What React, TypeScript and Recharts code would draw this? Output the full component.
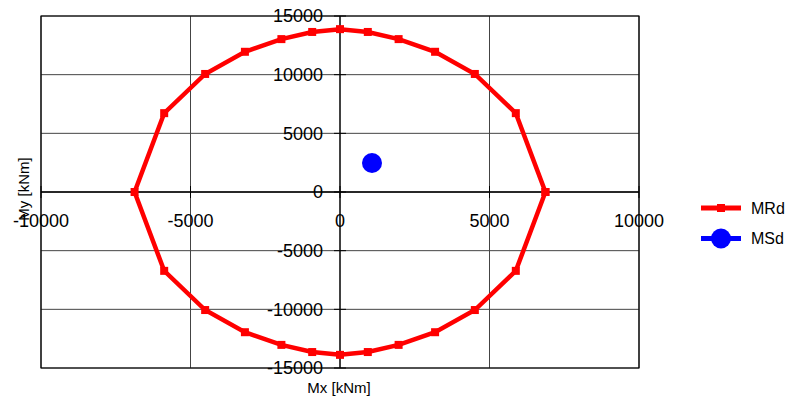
import React from 'react';
import { ScatterChart, Scatter, XAxis, YAxis, CartesianGrid, ReferenceLine, ReferenceArea, Customized } from 'recharts';

const mrdX = [6870, 5880, 4510, 3180, 1960, 930, 0, -930, -1960, -3180, -4510, -5880, -6870, -5880, -4510, -3180, -1960, -930, 0, 930, 1960, 3180, 4510, 5880, 6870];
const mrdY = [0, 6720, 10060, 11950, 13030, 13640, 13880, 13640, 13030, 11950, 10060, 6720, 0, -6720, -10060, -11950, -13030, -13640, -13880, -13640, -13030, -11950, -10060, -6720, 0];
const msdX = [1070];
const msdY = [2470];
const xTicks = [-10000, -5000, 0, 5000, 10000];
const yTicks = [-15000, -10000, -5000, 0, 5000, 10000, 15000];
const seriesNames = ['MRd', 'MSd'];
const xLabel = 'Mx [kNm]';
const yLabel = 'My [kNm]';

const W = 787;
const H = 402;
const AX_H = 20;
const AX_W = 20;
const M = { top: 16, right: 148, bottom: 34 - AX_H, left: 41 - AX_W };
const PLOT_L = 41;
const PLOT_T = 16;
const plotW = W - PLOT_L - M.right;
const plotH = H - PLOT_T - 34;
const ZERO_X = PLOT_L + plotW / 2;
const ZERO_Y = PLOT_T + plotH / 2;
const FONT = '"Liberation Sans", Arial, sans-serif';

const mrdData = mrdX.map((x, i) => ({ x, y: mrdY[i] }));
const msdData = msdX.map((x, i) => ({ x, y: msdY[i] }));

const renderXTick = (props: any) => {
  const { x, payload } = props;
  return (
    <g>
      <line x1={x} x2={x} y1={ZERO_Y - 6} y2={ZERO_Y + 6} stroke="#000" />
      <text x={x} y={ZERO_Y + 35} textAnchor="middle" fontFamily={FONT} fontSize={18} fill="#000">
        {payload.value}
      </text>
    </g>
  );
};

const renderYTick = (props: any) => {
  const { y, payload } = props;
  return (
    <g>
      <line x1={ZERO_X - 6} x2={ZERO_X + 6} y1={y} y2={y} stroke="#000" />
      <text x={ZERO_X - 17} y={y} dy="0.36em" textAnchor="end" fontFamily={FONT} fontSize={18} fill="#000">
        {payload.value}
      </text>
    </g>
  );
};

const SquareShape = (p: any) => (
  <rect x={p.cx - 4} y={p.cy - 4} width={8} height={8} fill="#ff0000" />
);
const CircleShape = (p: any) => <circle cx={p.cx} cy={p.cy} r={10} fill="#0000ff" />;

const Extras = () => (
  <g>
    <text x={339} y={393} textAnchor="middle" fontFamily={FONT} fontSize={15} fill="#000">{xLabel}</text>
    <text x={24} y={189} dy="0.36em" textAnchor="middle" fontFamily={FONT} fontSize={15} fill="#000" transform="rotate(-90, 24, 189)">{yLabel}</text>
    <g transform="translate(700, 198)">
      <line x1={1} x2={41} y1={10} y2={10} stroke="#ff0000" strokeWidth={5} />
      <rect x={17} y={6} width={8} height={8} fill="#ff0000" />
      <text x={51} y={10} dy="0.36em" fontFamily={FONT} fontSize={16} fill="#000">{seriesNames[0]}</text>
      <line x1={1} x2={41} y1={40.5} y2={40.5} stroke="#0000ff" strokeWidth={5} />
      <circle cx={21} cy={40.5} r={10} fill="#0000ff" />
      <text x={51} y={40.5} dy="0.36em" fontFamily={FONT} fontSize={16} fill="#000">{seriesNames[1]}</text>
    </g>
  </g>
);

export default function App() {
  return (
    <div style={{ position: 'absolute', left: 0, top: 0, width: W, height: H, background: '#fff' }}>
      <ScatterChart width={W} height={H} margin={M}>
        <CartesianGrid stroke="#444" strokeWidth={1} />
        <XAxis type="number" dataKey="x" domain={[-10000, 10000]} ticks={xTicks} height={AX_H} axisLine={false} tickLine={false} tick={renderXTick} interval={0} allowDataOverflow />
        <YAxis type="number" dataKey="y" domain={[-15000, 15000]} ticks={yTicks} width={AX_W} axisLine={false} tickLine={false} tick={renderYTick} interval={0} allowDataOverflow />
        <ReferenceArea x1={-10000} x2={10000} y1={-15000} y2={15000} fill="none" stroke="#000" strokeWidth={1.2} fillOpacity={0} />
        <ReferenceLine x={0} stroke="#000" strokeWidth={1.2} />
        <ReferenceLine y={0} stroke="#000" strokeWidth={1.5} />
        <Scatter name={seriesNames[0]} data={mrdData} line={{ stroke: '#ff0000', strokeWidth: 4.5 }} lineType="joint" shape={<SquareShape />} fill="#ff0000" isAnimationActive={false} />
        <Scatter name={seriesNames[1]} data={msdData} shape={<CircleShape />} fill="#0000ff" isAnimationActive={false} />
        <Customized component={<Extras />} />
      </ScatterChart>
    </div>
  );
}
